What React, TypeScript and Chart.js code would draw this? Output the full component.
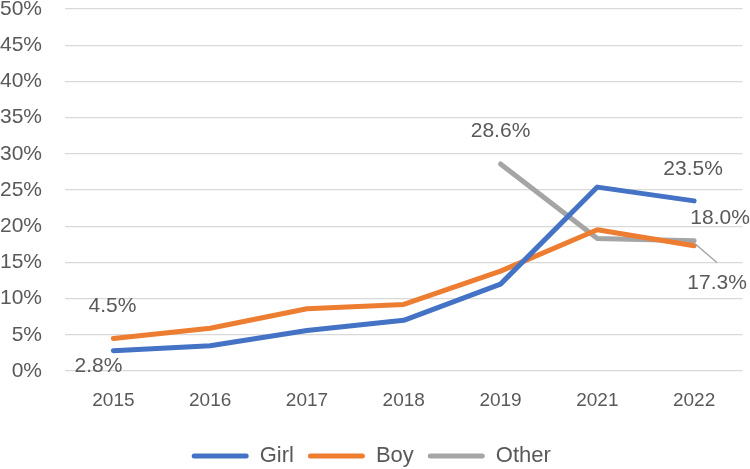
import React, { useEffect, useRef } from "react";
import { Chart, registerables } from "chart.js";

Chart.register(...registerables);

const years = ["2015", "2016", "2017", "2018", "2019", "2021", "2022"];
const girl = [2.8, 3.5, 5.6, 7.0, 12.0, 25.4, 23.5];
const boy = [4.5, 5.9, 8.6, 9.2, 13.8, 19.5, 17.3];
const other = [null, null, null, null, 28.6, 18.3, 18.0];
const seriesNames = ["Girl", "Boy", "Other"];
const seriesColors = ["#4472C4", "#ED7D31", "#A5A5A5"];

const TEXT = "#595959";

// which points carry a value label (dataset index, point index) and label offsets
const labelSpecs = [
  { ds: 0, idx: 0, dx: -15, dy: 15 },
  { ds: 1, idx: 0, dx: -1, dy: -32 },
  { ds: 2, idx: 4, dx: 0, dy: -33 },
  { ds: 0, idx: 6, dx: -1, dy: -32 },
  { ds: 2, idx: 6, dx: 26, dy: -22 },
  { ds: 1, idx: 6, dx: 23, dy: 37, leader: { dx: 23, dy: 17 } },
];

const labelPlugin = {
  id: "valueLabels",
  afterDatasetsDraw(chart: any) {
    const ctx = chart.ctx;
    ctx.save();
    ctx.font = "21px 'Liberation Sans', Arial, sans-serif";
    ctx.fillStyle = TEXT;
    ctx.textAlign = "center";
    ctx.textBaseline = "middle";
    for (const s of labelSpecs) {
      const meta = chart.getDatasetMeta(s.ds);
      const pt = meta.data[s.idx];
      const v = chart.data.datasets[s.ds].data[s.idx];
      if (!pt || v == null) continue;
      if (s.leader) {
        ctx.strokeStyle = "#A5A5A5";
        ctx.lineWidth = 1.5;
        ctx.beginPath();
        ctx.moveTo(pt.x + 1, pt.y - 2);
        ctx.lineTo(pt.x + s.leader.dx, pt.y + s.leader.dy);
        ctx.stroke();
      }
      ctx.fillText(Number(v).toFixed(1) + "%", pt.x + s.dx, pt.y + s.dy);
    }
    ctx.restore();
  },
};

export default function App() {
  const ref = useRef<HTMLCanvasElement | null>(null);
  useEffect(() => {
    document.body.style.margin = "0";
    const series = [girl, boy, other];
    const chart = new Chart(ref.current as HTMLCanvasElement, {
      type: "line",
      data: {
        labels: years,
        datasets: series.map((d, i) => ({
          label: seriesNames[i],
          data: d,
          borderColor: seriesColors[i],
          backgroundColor: seriesColors[i],
          borderWidth: 5,
          pointRadius: 0,
          pointHoverRadius: 0,
          tension: 0,
          borderCapStyle: "round" as const,
          borderJoinStyle: "round" as const,
          spanGaps: false,
        })),
      },
      options: {
        animation: false,
        responsive: false,
        maintainAspectRatio: false,
        layout: { padding: { top: 9, right: 7.5, left: 0, bottom: -8 } },
        plugins: {
          tooltip: { enabled: false },
          legend: {
            position: "bottom",
            labels: {
              boxWidth: 57,
              boxHeight: 5,
              useBorderRadius: true,
              borderRadius: 2.5,
              padding: 14,
              color: TEXT,
              font: { family: "'Liberation Sans', Arial, sans-serif", size: 22 },
              generateLabels: (c: any) =>
                c.data.datasets.map((ds: any, i: number) => ({
                  text: ds.label,
                  fillStyle: ds.borderColor,
                  strokeStyle: ds.borderColor,
                  lineWidth: 0,
                  fontColor: TEXT,
                  datasetIndex: i,
                  hidden: false,
                  borderRadius: 2.5,
                })),
            },
          },
        },
        scales: {
          x: {
            offset: true,
            grid: { display: false, drawTicks: false },
            border: { display: false },
            ticks: {
              color: TEXT,
              padding: 18,
              maxRotation: 0,
              font: { family: "'Liberation Sans', Arial, sans-serif", size: 19 },
            },
            afterFit: (s: any) => {
              s.height = 60;
            },
          },
          y: {
            min: 0,
            max: 50,
            grid: { color: "#D9D9D9", lineWidth: 1.3, drawTicks: false },
            border: { display: false },
            ticks: {
              stepSize: 5,
              color: TEXT,
              padding: 23,
              font: { family: "'Liberation Sans', Arial, sans-serif", size: 21 },
              callback: (v: any) => v + "%",
            },
            afterFit: (s: any) => {
              s.width = 65;
              s.paddingTop = 0;
              s.paddingBottom = 0;
            },
          },
        },
      },
      plugins: [labelPlugin],
    });
    return () => chart.destroy();
  }, []);
  return (
    <div style={{ width: 750, height: 469, background: "#fff" }}>
      <canvas ref={ref} width={750} height={469} style={{ display: "block" }} />
    </div>
  );
}
